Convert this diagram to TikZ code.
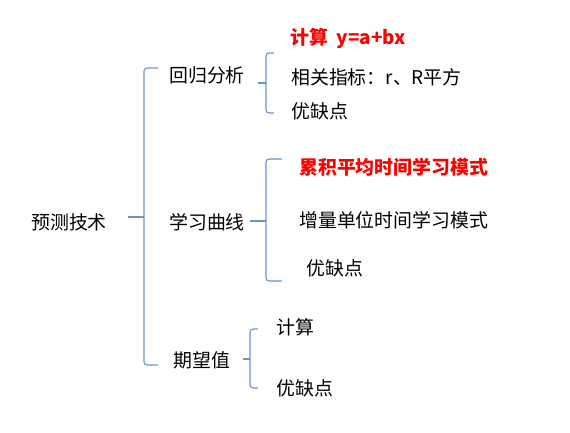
\documentclass[tikz,border=0pt]{standalone}
\usepackage{fontspec}
\setmainfont{Noto Sans CJK SC}
\definecolor{bracecol}{HTML}{6F93C8}
\definecolor{redtxt}{HTML}{FF0000}
\begin{document}
\begin{tikzpicture}[x=1pt,y=-1pt,
  lbl/.style={anchor=west,inner sep=0pt,font=\fontsize{18.9}{22}\selectfont},
  hot/.style={lbl,text=redtxt,font=\fontsize{18.9}{22}\selectfont\bfseries},
  brace/.style={draw=bracecol,line width=1.1pt,rounded corners=3pt}]
\useasboundingbox (0,0) rectangle (570,432);
% nodes
\node[lbl] (root) at (31,222) {预测技术};
\node[lbl] (hg) at (169,75) {回归分析};
\node[lbl] (xx) at (169,222) {学习曲线};
\node[lbl] (qw) at (173,360) {期望值};
\node[hot] (a1) at (290,38) {计算\ \ y=a+bx};
\node[lbl] (a2) at (291,77) {相关指标：r、R平方};
\node[lbl] (a3) at (291,111) {优缺点};
\node[hot] (b1) at (299,167) {累积平均时间学习模式};
\node[lbl] (b2) at (299,220) {增量单位时间学习模式};
\node[lbl] (b3) at (306,268) {优缺点};
\node[lbl] (c1) at (276,327) {计算};
\node[lbl] (c2) at (276,388) {优缺点};
% braces
\coordinate (r0) at (128,217);
\coordinate (r1) at (144,217);
\draw[brace] (158,68) -- (144,68) -- (144,365) -- (158,365);
\draw[brace] (r0) -- (r1);
\coordinate (h0) at (258,83);
\coordinate (h1) at (266,83);
\draw[brace] (274,53) -- (266,53) -- (266,113) -- (274,113);
\draw[brace] (h0) -- (h1);
\coordinate (x0) at (250,221);
\coordinate (x1) at (266,221);
\draw[brace] (282,159) -- (266,159) -- (266,281) -- (282,281);
\draw[brace] (x0) -- (x1);
\coordinate (q0) at (243,359);
\coordinate (q1) at (250,359);
\draw[brace] (258,329) -- (250,329) -- (250,388) -- (258,388);
\draw[brace] (q0) -- (q1);
\end{tikzpicture}
\end{document}
